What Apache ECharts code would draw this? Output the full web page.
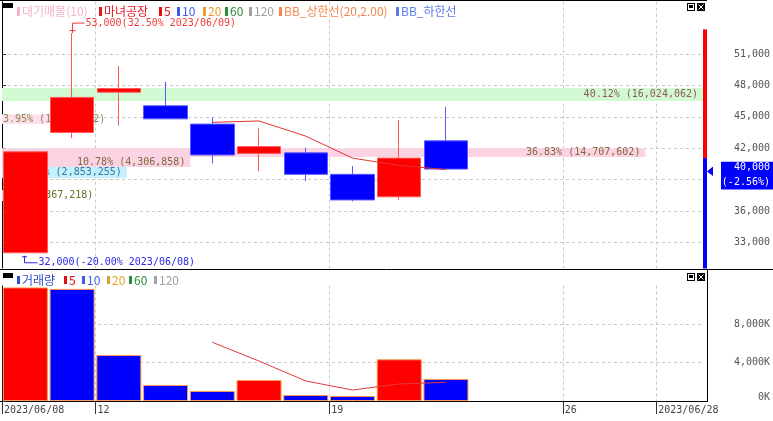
<!DOCTYPE html>
<html><head><meta charset="utf-8">
<script src="https://cdn.jsdelivr.net/npm/echarts@6/dist/echarts.min.js"></script>
<style>html,body{margin:0;padding:0;background:#fff}#c{width:773px;height:421px}</style>
</head><body><div id="c"></div>
<script>
// ---------- data ----------
const categories = ['2023/06/08','2023/06/09','2023/06/12','2023/06/13','2023/06/14','2023/06/15','2023/06/16','2023/06/19','2023/06/20','2023/06/21','2023/06/22','2023/06/23','2023/06/26','2023/06/27','2023/06/28'];
const openPrices  = [32000, 43500, 47350, 46050, 44300, 41500, 41550, 39500, 37350, 42700];
const closePrices = [41650, 46850, 47700, 44800, 41350, 42150, 39500, 37050, 41050, 40000];
const lowPrices   = [32000, 42950, 44150, 44800, 40550, 39800, 38850, 36900, 37050, 40000];
const highPrices  = [41650, 53000, 49850, 48350, 44950, 43900, 42050, 40300, 44700, 45950];
const priceMA5    = [null, null, null, null, 44470, 44600, 43150, 41050, 40350, 39950];
const volumesK    = [11800, 11650, 4780, 1660, 1040, 2180, 620, 520, 4330, 2290];
const volumeMA5K  = [null, null, null, null, 6100, 4150, 2080, 1140, 1770, 1940];
const priceTicks  = [33000, 36000, 39000, 42000, 45000, 48000, 51000];
const volumeTicks = [0, 4000, 8000];
const dateTickIndex  = [0, 2, 7, 12, 14];
const dateTickLabels = ['2023/06/08', '12', '19', '26', '2023/06/28'];
const profileLow    = [46500, 44300, 41150, 40200, 39150, 36950];
const profileHigh   = [47750, 45250, 42000, 41150, 40200, 38000];
const profileVolume = [16024062, 1577632, 14707602, 4306858, 2853255, 367218];
const profilePct    = [40.12, 3.95, 36.83, 10.78, 7.14, 0.92];
const currentPrice = 40000, currentChangePct = '-2.56';
const prevClose = 41050, upperLimit = 53350, lowerLimit = 28750;
const highMark = {index: 1, price: 53000, pct: '32.50', date: '2023/06/09'};
const lowMark  = {index: 0, price: 32000, pct: '-20.00', date: '2023/06/08'};
const priceLegend  = ['대기매물(10)', '마녀공장', '5', '10', '20', '60', '120', 'BB_상한선(20,2.00)', 'BB_하한선'];
const volumeLegend = ['거래량', '5', '10', '20', '60', '120'];

// ---------- styles ----------
const MONO = '"DejaVu Sans Mono", "Liberation Mono", monospace';
const KR = '"Noto Sans CJK KR", "Noto Sans", sans-serif';
const fmt = v => Number(v).toLocaleString('en-US');
const bandFill = ['#d2fad2', '#fde0eb', '#fcd3e3', '#fcd3e3', '#c6f0fb', '#fcd3e3'];
const bandText = ['#8c5a50', '#8a8450', '#7c6a40', '#7c6a40', '#2a78a8', '#6e6e28'];
const gridLine = {show: true, lineStyle: {color: '#c8c8c8', type: [3, 3], width: 1}};
const measureCtx = document.createElement('canvas').getContext('2d');
measureCtx.font = '10px ' + MONO;

const chart = echarts.init(document.getElementById('c'), null, {renderer: 'canvas'});
const candleData = openPrices.map((o, i) => [o, closePrices[i], lowPrices[i], highPrices[i]]);

const option = {
  animation: false,
  grid: [
    {left: 2, right: 70, top: 1.7, height: 272},
    {left: 2, right: 70, top: 285.5, height: 115.5}
  ],
  xAxis: [
    {type: 'category', gridIndex: 0, data: categories, boundaryGap: true, show: false},
    {type: 'category', gridIndex: 1, data: categories, boundaryGap: true, show: false},
    {type: 'value', gridIndex: 0, min: 0, max: Math.max(...profileVolume), show: false},
    {type: 'value', gridIndex: 0, min: 0, max: categories.length, position: 'bottom',
     axisLine: {show: false}, axisTick: {show: false, customValues: dateTickIndex},
     axisLabel: {show: false, customValues: dateTickIndex}, splitLine: gridLine},
    {type: 'value', gridIndex: 1, min: 0, max: categories.length, position: 'bottom',
     axisLine: {show: true, lineStyle: {color: '#000'}},
     axisTick: {show: true, customValues: dateTickIndex, length: 13, lineStyle: {color: '#333'}},
     axisLabel: {customValues: dateTickIndex, formatter: v => dateTickLabels[dateTickIndex.indexOf(v)],
       align: 'left', margin: 4, padding: [0, 0, 0, 2], color: '#444', fontFamily: MONO, fontSize: 10},
     splitLine: gridLine}
  ],
  yAxis: [
    {type: 'value', gridIndex: 0, position: 'right', offset: 4, min: 30000, max: 56000,
     axisLine: {show: true, lineStyle: {color: '#000'}},
     axisTick: {show: true, length: 4, customValues: priceTicks, lineStyle: {color: '#333'}},
     axisLabel: {customValues: priceTicks, formatter: fmt, align: 'right', margin: 63, color: '#555', fontFamily: MONO, fontSize: 10},
     splitLine: gridLine},
    {type: 'value', gridIndex: 1, position: 'right', offset: 4, min: 0, max: 12000,
     axisLine: {show: true, lineStyle: {color: '#000'}},
     axisTick: {show: true, length: 4, customValues: volumeTicks, lineStyle: {color: '#333'}},
     axisLabel: {customValues: volumeTicks,
       formatter: v => v === 0 ? '{z|0K}' : fmt(v) + 'K',
       rich: {z: {padding: [0, 0, 8, 0], color: '#555', fontFamily: MONO, fontSize: 10}},
       align: 'right', margin: 63, color: '#555', fontFamily: MONO, fontSize: 10},
     splitLine: gridLine}
  ],
  series: [
    { // volume profile (대기매물)
      type: 'custom', xAxisIndex: 2, yAxisIndex: 0, z: 1,
      data: profileVolume.map((v, i) => [v, profileLow[i], profileHigh[i], profilePct[i]]),
      encode: {x: 0, y: [1, 2]},
      renderItem(params, api) {
        const i = params.dataIndex;
        const v = api.value(0), lo = api.value(1), hi = api.value(2), pct = api.value(3);
        const p0 = api.coord([0, hi]), p1 = api.coord([v, lo]);
        const text = pct.toFixed(2) + '% (' + fmt(v) + ')';
        const tw = measureCtx.measureText(text).width;
        const w = p1[0] - p0[0];
        let tx, align;
        if (tw + 8 <= w) { tx = p1[0] - 5; align = 'right'; } else { tx = p0[0] + 1; align = 'left'; }
        return {type: 'group', children: [
          {type: 'rect', shape: {x: p0[0], y: p0[1], width: w, height: p1[1] - p0[1]}, style: {fill: bandFill[i]}},
          {type: 'text', style: {text, x: tx, y: (p0[1] + p1[1]) / 2, align, textAlign: align,
            verticalAlign: 'middle', textVerticalAlign: 'middle', font: '10px ' + MONO, fill: bandText[i]}}
        ]};
      }
    },
    {
      type: 'candlestick', xAxisIndex: 0, yAxisIndex: 0, z: 2, barWidth: 44,
      data: candleData,
      itemStyle: {color: '#ff0000', color0: '#0000ff', borderColor: '#ff5a5a', borderColor0: '#5a5aff', borderWidth: 1}
    },
    {
      type: 'line', xAxisIndex: 0, yAxisIndex: 0, z: 3, data: priceMA5, symbol: 'none',
      lineStyle: {color: '#e63232', width: 1}
    },
    { // price limit bar on the right edge
      type: 'custom', xAxisIndex: 0, yAxisIndex: 0, z: 3,
      data: [[0, prevClose, upperLimit, lowerLimit]],
      encode: {x: 0, y: [1, 2, 3]},
      renderItem(params, api) {
        const cs = params.coordSys;
        const x = cs.x + cs.width;
        const yp = api.coord([0, api.value(1)])[1];
        const yu = Math.max(api.coord([0, api.value(2)])[1], cs.y);
        const yl = Math.min(api.coord([0, api.value(3)])[1], cs.y + cs.height);
        return {type: 'group', children: [
          {type: 'rect', shape: {x, y: yu, width: 4, height: yp - yu}, style: {fill: '#ff0000'}},
          {type: 'rect', shape: {x, y: yp, width: 4, height: yl - yp}, style: {fill: '#0000ff'}}
        ]};
      }
    },
    {
      type: 'bar', xAxisIndex: 1, yAxisIndex: 1, barWidth: 45, data: volumesK,
      itemStyle: {
        color: p => (p.dataIndex === 0 || volumesK[p.dataIndex] > volumesK[p.dataIndex - 1]) ? '#ff0000' : '#0000ff',
        borderColor: p => (p.dataIndex === 0 || volumesK[p.dataIndex] > volumesK[p.dataIndex - 1]) ? '#ff8080' : '#8080ff',
        borderWidth: 1
      }
    },
    {
      type: 'line', xAxisIndex: 1, yAxisIndex: 1, data: volumeMA5K, symbol: 'none', z: 3,
      lineStyle: {color: '#e03a3a', width: 1}
    }
  ]
};
chart.setOption(option);

// ---------- overlay graphics positioned from the scales ----------
const G = [];
const Z = 100;
function line(x1, y1, x2, y2, stroke, z) { G.push({type: 'line', z: z || Z, shape: {x1, y1, x2, y2}, style: {stroke, lineWidth: 1}}); }
function rect(x, y, w, h, fill, z) { G.push({type: 'rect', z: z || Z, shape: {x, y, width: w, height: h}, style: {fill}}); }
function text(x, y, t, font, fill, align) {
  G.push({type: 'text', z: Z + 1, x: 0, y: 0, style: {text: t, x, y, font, fill, align: align || 'left', textAlign: align || 'left', verticalAlign: 'middle', textVerticalAlign: 'middle'}});
}

// separator between panels
rect(0, 268.5, 773, 17, '#ffffff', 90);
line(0, 269.5, 773, 269.5, '#000');
line(0, 0.5, 707, 0.5, '#000');
line(707.5, 269, 707.5, 402, '#000');
line(0, 401.5, 2, 401.5, '#000');
line(703, 401.5, 708, 401.5, '#000');

// legends
const legendColors = ['#f5b4c8', '#e8141e', '#e01010', '#3c5ce6', '#e6a028', '#2a8c3c', '#a0a0a0', '#f4884c', '#5c7ce8'];
const legendX = [17, 99, 159, 177, 203, 225, 249, 279, 396];
rect(3, 3, 10, 5, '#000');
priceLegend.forEach((t, i) => { rect(legendX[i], 7, 3, 9, legendColors[i]); text(legendX[i] + 5, 11.5, t, '12px ' + KR, legendColors[i]); });
const vLegendColors = ['#2c50c8', '#e01010', '#3c5ce6', '#e6a028', '#2a8c3c', '#a0a0a0'];
const vLegendX = [17, 64, 82, 107, 129, 154];
rect(3, 273, 10, 5, '#000');
volumeLegend.forEach((t, i) => { rect(vLegendX[i], 276, 3, 8, vLegendColors[i]); text(vLegendX[i] + 5, 280, t, '12px ' + KR, vLegendColors[i]); });

// window icons
[3, 273].forEach(y => {
  rect(687, y, 8, 8, '#000'); rect(688, y + 1, 6, 6, '#fff'); rect(689, y + 2, 4, 3, '#000');
  rect(697, y, 8, 8, '#000');
  line(698.5, y + 1.5, 703.5, y + 6.5, '#fff'); line(703.5, y + 1.5, 698.5, y + 6.5, '#fff');
});

// high / low annotations
const [hx0, hy] = chart.convertToPixel({seriesIndex: 1}, [highMark.index, highMark.price]);
const hx = Math.round(hx0) + 0.5;
const hc = '#f03c3c';
line(hx, hy - 10, hx, hy, hc);
line(hx - 3, hy - 2.5, hx + 3, hy - 2.5, hc);
line(hx, hy - 10, hx + 12, hy - 10, hc);
text(hx + 13, hy - 10, fmt(highMark.price) + '(' + highMark.pct + '% ' + highMark.date + ')', '10px ' + MONO, hc);

const [lx0, ly] = chart.convertToPixel({seriesIndex: 1}, [lowMark.index, lowMark.price]);
const lx = Math.round(lx0) - 0.5;
const lc = '#2a2ae8';
line(lx, ly + 3, lx, ly + 10, lc);
line(lx - 2.5, ly + 4, lx + 2.5, ly + 4, lc);
line(lx, ly + 10, lx + 13, ly + 10, lc);
text(lx + 14, ly + 10, fmt(lowMark.price) + '(' + lowMark.pct + '% ' + lowMark.date + ')', '10px ' + MONO, lc);

// current price marker
const cy = chart.convertToPixel({yAxisIndex: 0}, currentPrice);
G.push({type: 'polygon', z: Z, shape: {points: [[707, cy + 2.3], [713, cy - 2.5], [713, cy + 7]]}, style: {fill: '#0000ff'}});
rect(721, cy - 7.3, 52, 27.6, '#0000ff');
text(770, cy - 1.5, fmt(currentPrice), '10px ' + MONO, '#fff', 'right');
text(770, cy + 13, '(' + currentChangePct + '%)', '10px ' + MONO, '#fff', 'right');

chart.setOption({graphic: G});
</script>
</body></html>
